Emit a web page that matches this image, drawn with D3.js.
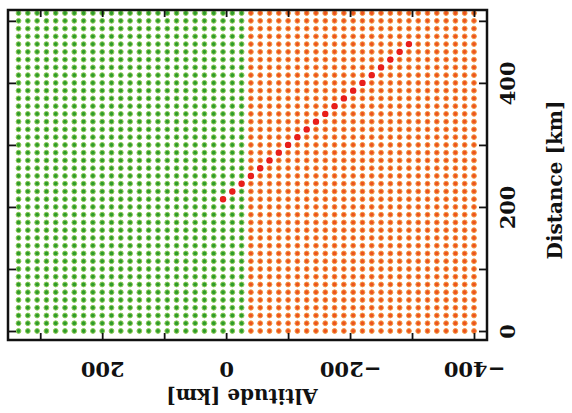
<!DOCTYPE html>
<html>
<head>
<meta charset="utf-8">
<script src="https://cdn.jsdelivr.net/npm/d3@7"></script>
<style>
  body { margin: 0; background: #fff; }
  svg text { font-family: "DejaVu Serif", serif; font-weight: bold; fill: #111; }
</style>
</head>
<body>
<svg id="chart" width="572" height="413"></svg>
<script>
// grid columns (altitude, km) split by class, grid rows (distance, km)
const altitudeGreen = [335, 320, 305, 290, 275, 260, 245, 230, 215, 200, 185, 170, 155,
  140, 125, 110, 95, 80, 65, 50, 35, 20, 5, -10, -25];
const altitudeOrange = [-40, -55, -70, -85, -100, -115, -130, -145, -160, -175, -190,
  -205, -220, -235, -250, -265, -280, -295, -310, -325, -340, -355, -370, -385, -400];
const distanceRows = [0, 12.5, 25, 37.5, 50, 62.5, 75, 87.5, 100, 112.5, 125, 137.5,
  150, 162.5, 175, 187.5, 200, 212.5, 225, 237.5, 250, 262.5, 275, 287.5, 300, 312.5,
  325, 337.5, 350, 362.5, 375, 387.5, 400, 412.5, 425, 437.5, 450, 462.5, 475, 487.5,
  500, 512.5];

// highlighted path (red)
const pathAltitude = [5, -10, -25, -40, -55, -70, -85, -100, -115, -130, -145, -160,
  -175, -190, -205, -220, -235, -250, -265, -280, -295];
const pathDistance = [212.5, 225, 237.5, 250, 262.5, 275, 287.5, 300, 312.5, 325,
  337.5, 350, 362.5, 375, 387.5, 400, 412.5, 425, 437.5, 450, 462.5];

const altitudeTicks = [-400, -300, -200, -100, 0, 100, 200, 300];
const altitudeLabels = [-400, -200, 0, 200];
const distanceTicks = [0, 100, 200, 300, 400, 500];
const distanceLabels = [0, 200, 400];

const frameL = 8, frameR = 487, frameT = 10, frameB = 340;

const svg = d3.select('#chart');

// the figure is drawn turned: altitude runs right-to-left, distance bottom-to-top
const x = d3.scaleLinear().domain([352, -421]).range([frameL, frameR]);
const y = d3.scaleLinear().domain([-14.5, 517.5]).range([frameB, frameT]);

const cells = [];
distanceRows.forEach(d => {
  altitudeGreen.forEach(a => cells.push({ a: a, d: d, c: 'g' }));
  altitudeOrange.forEach(a => cells.push({ a: a, d: d, c: 'o' }));
});

svg.append('g')
  .selectAll('circle')
  .data(cells)
  .enter()
  .append('circle')
  .attr('cx', p => x(p.a))
  .attr('cy', p => y(p.d))
  .attr('r', 2.4)
  .style('fill', p => p.c === 'g' ? '#2f9c2c' : '#ec5420')
  .style('stroke', p => p.c === 'g' ? '#8fcb55' : '#f49a40')
  .style('stroke-width', 1);

svg.append('g')
  .selectAll('circle')
  .data(pathAltitude.map((a, i) => ({ a: a, d: pathDistance[i] })))
  .enter()
  .append('circle')
  .attr('cx', p => x(p.a))
  .attr('cy', p => y(p.d))
  .attr('r', 3.2)
  .style('fill', '#e81e1a');

// axes: ticks point inward on all four sides
const fmt = d3.format('d');

const gBottom = svg.append('g')
  .attr('transform', `translate(0,${frameB})`)
  .call(d3.axisBottom(x).tickValues(altitudeTicks).tickSize(-7).tickSizeOuter(0)
    .tickFormat(v => altitudeLabels.includes(v) ? fmt(v) : ''));
gBottom.selectAll('text')
  .attr('y', 0).attr('dy', '0.35em')
  .attr('transform', 'translate(0,29) rotate(180)')
  .style('font-size', '21px');

svg.append('g')
  .attr('transform', `translate(0,${frameT})`)
  .call(d3.axisTop(x).tickValues(altitudeTicks).tickSize(-7).tickSizeOuter(0).tickFormat(''));

const gRight = svg.append('g')
  .attr('transform', `translate(${frameR},0)`)
  .call(d3.axisRight(y).tickValues(distanceTicks).tickSize(-8).tickSizeOuter(0)
    .tickFormat(v => distanceLabels.includes(v) ? fmt(v) : ''));
gRight.selectAll('text')
  .attr('x', 0).attr('dy', '0.35em')
  .attr('transform', 'translate(21,0) rotate(-90)')
  .style('text-anchor', 'middle')
  .style('font-size', '21px');

svg.append('g')
  .attr('transform', `translate(${frameL},0)`)
  .call(d3.axisLeft(y).tickValues(distanceTicks).tickSize(-8).tickSizeOuter(0).tickFormat(''));

svg.selectAll('.domain').remove();
svg.selectAll('.tick line').style('stroke', '#111').style('stroke-width', 1.8);

svg.append('rect')
  .attr('x', frameL).attr('y', frameT)
  .attr('width', frameR - frameL).attr('height', frameB - frameT)
  .style('fill', 'none').style('stroke', '#111').style('stroke-width', 2.5);

svg.append('text')
  .attr('transform', 'translate(242,396) rotate(180)')
  .attr('text-anchor', 'middle').attr('dy', '0.35em')
  .style('font-size', '20px')
  .text('Altitude [km]');

svg.append('text')
  .attr('transform', 'translate(555,180) rotate(-90)')
  .attr('text-anchor', 'middle').attr('dy', '0.35em')
  .style('font-size', '20px')
  .text('Distance [km]');
</script>
</body>
</html>
